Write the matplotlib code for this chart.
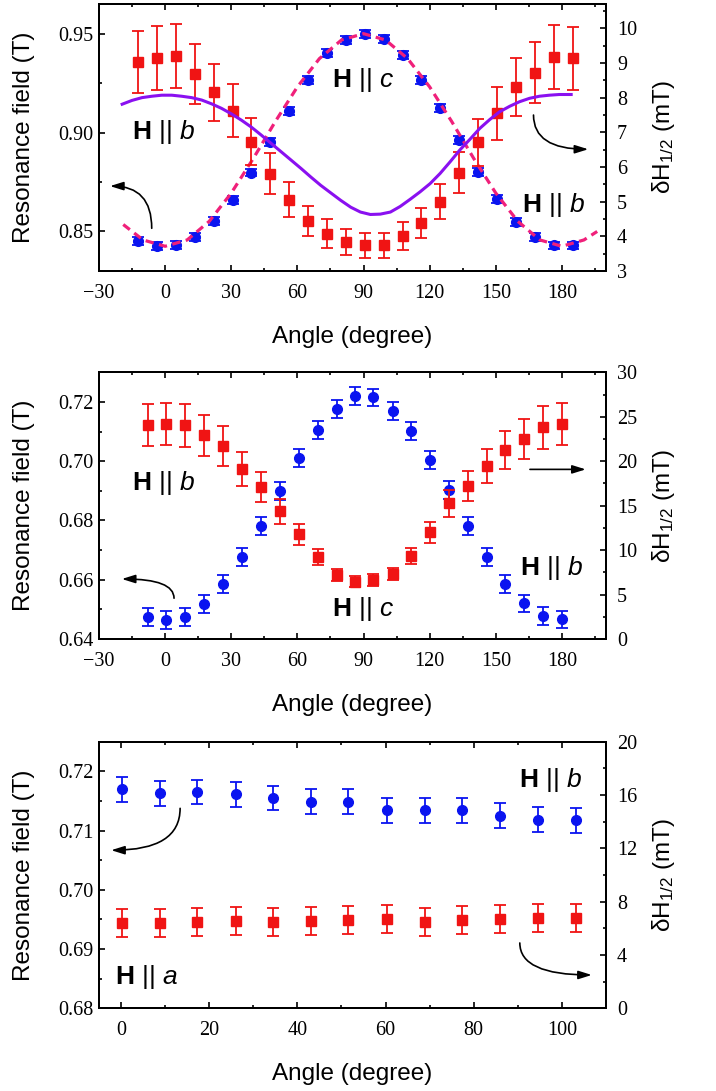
import matplotlib
matplotlib.use('Agg')
import matplotlib.pyplot as plt
from matplotlib.ticker import MultipleLocator

plt.rcParams['font.family'] = 'Liberation Sans'
plt.rcParams['mathtext.fontset'] = 'custom'
plt.rcParams['mathtext.rm'] = 'Liberation Sans'
plt.rcParams['mathtext.it'] = 'Liberation Sans:italic'
plt.rcParams['mathtext.bf'] = 'Liberation Sans:bold'
plt.rcParams['lines.scale_dashes'] = False

# ---------------- Panel 1 (top) ----------------
ang1 = [-12.3, -3.7, 4.9, 13.4, 22.0, 30.6, 39.1, 47.7, 56.3, 64.9, 73.4, 82.0,
        90.6, 99.1, 107.7, 116.3, 124.9, 133.4, 142.0, 150.6, 159.1, 167.7, 176.3, 184.9]
res1 = [0.8451, 0.8425, 0.8433, 0.8471, 0.8552, 0.8661, 0.8798, 0.8953, 0.9108, 0.9264, 0.9401, 0.9468,
        0.9497, 0.9473, 0.9392, 0.9266, 0.9122, 0.8961, 0.8801, 0.8662, 0.8547, 0.8471, 0.8429, 0.8429]
res1_err = [0.002] * 24
wid1 = [9.02, 9.15, 9.20, 8.68, 8.16, 7.62, 6.73, 5.81, 5.06, 4.44, 4.08, 3.83,
        3.74, 3.74, 4.01, 4.39, 5.00, 5.84, 6.71, 7.55, 8.30, 8.72, 9.16, 9.13]
wid1_err = [0.90, 0.92, 0.92, 0.87, 0.82, 0.76, 0.67, 0.58, 0.51, 0.44, 0.41, 0.38,
            0.37, 0.37, 0.40, 0.44, 0.50, 0.58, 0.67, 0.76, 0.83, 0.87, 0.92, 0.91]
# fit curves
fitres_ang = [-19, -10, 0, 10, 20, 30, 40, 50, 60, 70, 80, 90, 100, 110, 120, 130, 140,
              150, 160, 170, 180, 190, 196]
fitres_val = [0.8535, 0.8457, 0.8425, 0.8457, 0.8551, 0.8694, 0.8869, 0.9056, 0.9231, 0.9374,
              0.9468, 0.9500, 0.9468, 0.9374, 0.9231, 0.9056, 0.8869, 0.8694, 0.8551, 0.8457,
              0.8425, 0.8457, 0.8500]
fitwid_ang = [-19.5, -15.0, -10.5, -6.0, -1.5, 3.0, 7.5, 12.0, 16.6, 21.1, 25.6, 30.1, 34.6,
              39.1, 43.6, 48.1, 52.6, 57.1, 61.6, 66.1, 70.6, 75.2, 79.6, 84.2, 88.6, 93.1,
              97.6, 102.2, 106.6, 111.2, 115.6, 120.2, 124.7, 129.3, 133.7, 138.3, 142.7,
              147.3, 151.7, 156.3, 160.7, 165.3, 169.8, 174.3, 178.8, 184.2]
fitwid_val = [7.81, 7.92, 8.00, 8.04, 8.07, 8.07, 8.04, 8.00, 7.93, 7.82, 7.69, 7.53, 7.35,
              7.15, 6.92, 6.68, 6.44, 6.20, 5.96, 5.71, 5.47, 5.25, 5.04, 4.84, 4.70, 4.63,
              4.64, 4.70, 4.86, 5.07, 5.28, 5.52, 5.81, 6.15, 6.49, 6.80, 7.11, 7.37, 7.59,
              7.75, 7.88, 7.98, 8.04, 8.07, 8.09, 8.09]

# ---------------- Panel 2 (middle) ----------------
ang2 = [-7.8, 0.6, 9.2, 17.8, 26.4, 35.0, 43.6, 52.2, 60.6, 69.2, 77.8, 86.2,
        94.5, 103.2, 111.7, 120.3, 128.8, 137.3, 145.9, 154.3, 162.9, 171.4, 179.9]
res2 = [0.6473, 0.6464, 0.6473, 0.6518, 0.6585, 0.6678, 0.6781, 0.6900, 0.7012, 0.7105, 0.7177, 0.7220,
        0.7215, 0.7170, 0.7103, 0.7004, 0.6903, 0.6781, 0.6678, 0.6586, 0.6520, 0.6478, 0.6466]
res2_err = [0.003] * 23
wid2 = [24.07, 24.18, 24.04, 22.91, 21.71, 19.16, 17.10, 14.36, 11.78, 9.22, 7.23, 6.45,
        6.64, 7.31, 9.37, 12.0, 15.26, 17.21, 19.46, 21.26, 22.50, 23.81, 24.18]
wid2_err = [2.4, 2.4, 2.4, 2.3, 2.2, 1.9, 1.7, 1.4, 1.2, 0.9, 0.7, 0.6,
            0.7, 0.7, 0.9, 1.2, 1.5, 1.7, 1.9, 2.1, 2.2, 2.4, 2.4]

# ---------------- Panel 3 (bottom) ----------------
ang3 = [0.2, 8.8, 17.3, 26.0, 34.5, 43.0, 51.5, 60.3, 68.9, 77.4, 86.0, 94.5, 103.1]
res3 = [0.7170, 0.7163, 0.7165, 0.7161, 0.7155, 0.7149, 0.7149,
        0.7134, 0.7134, 0.7134, 0.7125, 0.7118, 0.7117]
res3_err = [0.0021] * 13
wid3 = [6.38, 6.38, 6.45, 6.53, 6.50, 6.53, 6.62, 6.68, 6.50, 6.62, 6.68, 6.80, 6.77]
wid3_err = [1.04] * 13

BLUE = '#0a14f0'
RED = '#f01414'
PURPLE = '#8a10f0'
PINK = '#f0207a'

fig = plt.figure(figsize=(7.16, 10.91), dpi=100)
W, H = 716.0, 1091.0


def rect(x0, x1, ytop, ybot):
    return [x0 / W, (H - ybot) / H, (x1 - x0) / W, (ybot - ytop) / H]


TICKFAM = 'Liberation Serif'
TICKSIZE = 14.5
LABFONT = 17.5
ANNFONT = 19


def style(ax, ax2, xlim, xmaj, xmin, ylim, ymaj, ymin, y2lim, y2maj, y2min):
    ax.set_xlim(*xlim)
    ax.set_ylim(*ylim)
    ax2.set_ylim(*y2lim)
    ax.xaxis.set_major_locator(MultipleLocator(xmaj))
    ax.xaxis.set_minor_locator(MultipleLocator(xmin))
    ax.yaxis.set_major_locator(MultipleLocator(ymaj))
    ax.yaxis.set_minor_locator(MultipleLocator(ymin))
    ax2.yaxis.set_major_locator(MultipleLocator(y2maj))
    ax2.yaxis.set_minor_locator(MultipleLocator(y2min))
    for a in (ax, ax2):
        for s in a.spines.values():
            s.set_linewidth(1.4)
    ax.tick_params(axis='x', which='both', direction='in', top=True, bottom=True, width=1.2, pad=9,
                   labelsize=TICKSIZE, labelfontfamily=TICKFAM)
    ax.tick_params(axis='y', which='both', direction='in', left=True, right=False, width=1.2, pad=4,
                   labelsize=TICKSIZE, labelfontfamily=TICKFAM)
    ax.tick_params(which='major', length=4.5)
    ax.tick_params(which='minor', length=2.5)
    ax2.tick_params(axis='y', which='both', direction='in', right=True, left=False, width=1.2, pad=8,
                    labelsize=TICKSIZE, labelfontfamily=TICKFAM)
    ax2.tick_params(which='major', length=4.5)
    ax2.tick_params(which='minor', length=2.5)
    ax.set_xlabel('Angle (degree)', fontsize=LABFONT)
    ax.set_ylabel('Resonance field (T)', fontsize=LABFONT)
    ax2.set_ylabel(r'δH$_{1/2}$ (mT)', fontsize=LABFONT)
    ax.xaxis.set_label_coords(0.5, -0.205)
    ax.yaxis.set_label_coords(-0.126, 0.5)
    ax2.yaxis.set_label_coords(1.087, 0.5)


def data(ax, ax2, a, r, re, w, we):
    ax.errorbar(a, r, yerr=re, fmt='o', color=BLUE, ms=7, capsize=4.5, elinewidth=1.3,
                capthick=1.3, zorder=3)
    ax2.errorbar(a, w, yerr=we, fmt='s', color=RED, ms=6.5, capsize=4.5, elinewidth=1.3,
                 capthick=1.3, zorder=3)


def ann(ax, x, y, letter):
    ax.text(x, y, r'$\mathbf{H}$ || $\mathit{' + letter + '}$', transform=ax.transAxes,
            fontsize=ANNFONT, ha='center', va='center', zorder=6)


def arrow(ax, start, tip, aA, aB):
    ax.annotate('', xy=tip, xytext=start, xycoords='axes fraction', textcoords='axes fraction',
                arrowprops=dict(arrowstyle='-|>,head_length=0.8,head_width=0.25', color='black', lw=1.2,
                                shrinkA=0, shrinkB=0,
                                connectionstyle='angle3,angleA=%d,angleB=%d' % (aA, aB)),
                zorder=6)


# Top panel
ax1 = fig.add_axes(rect(99, 606, 4, 271))
ax1b = ax1.twinx()
data(ax1, ax1b, ang1, res1, res1_err, wid1, wid1_err)
ax1b.plot(fitwid_ang, fitwid_val, color=PURPLE, lw=2.2, zorder=4, solid_joinstyle='round')
ax1.plot(fitres_ang, fitres_val, color=PINK, lw=2.3, dashes=(6, 4), zorder=5)
style(ax1, ax1b, (-30, 200), 30, 15, (0.83, 0.965), 0.05, 0.025, (3, 10.7), 1, 0.5)
ann(ax1, 0.127, 0.522, 'b')
ann(ax1, 0.521, 0.715, 'c')
ann(ax1b, 0.896, 0.247, 'b')
arrow(ax1b, (0.104, 0.160), (0.0217, 0.318), 90, 0)
arrow(ax1b, (0.857, 0.584), (0.965, 0.456), 90, 0)

# Middle panel
ax2 = fig.add_axes(rect(99, 606, 372.3, 639))
ax2b = ax2.twinx()
data(ax2, ax2b, ang2, res2, res2_err, wid2, wid2_err)
style(ax2, ax2b, (-30, 200), 30, 15, (0.64, 0.73), 0.02, 0.01, (0, 30), 5, 2.5)
ann(ax2b, 0.127, 0.586, 'b')
ann(ax2b, 0.521, 0.112, 'c')
ann(ax2b, 0.893, 0.266, 'b')
arrow(ax2b, (0.148, 0.153), (0.045, 0.225), 90, 0)
ax2b.annotate('', xy=(0.960, 0.636), xytext=(0.850, 0.636), xycoords='axes fraction',
              textcoords='axes fraction',
              arrowprops=dict(arrowstyle='-|>,head_length=0.8,head_width=0.25', color='black', lw=1.2,
                              shrinkA=0, shrinkB=0), zorder=6)

# Bottom panel
ax3 = fig.add_axes(rect(99, 606, 741.7, 1008.3))
ax3b = ax3.twinx()
data(ax3, ax3b, ang3, res3, res3_err, wid3, wid3_err)
style(ax3, ax3b, (-5, 110), 20, 10, (0.68, 0.725), 0.01, 0.005, (0, 20), 4, 2)
ann(ax3b, 0.890, 0.857, 'b')
ann(ax3b, 0.093, 0.118, 'a')
arrow(ax3b, (0.160, 0.750), (0.024, 0.593), -90, 0)
arrow(ax3b, (0.830, 0.245), (0.972, 0.125), -90, 0)

fig.savefig('out.png', dpi=100)
